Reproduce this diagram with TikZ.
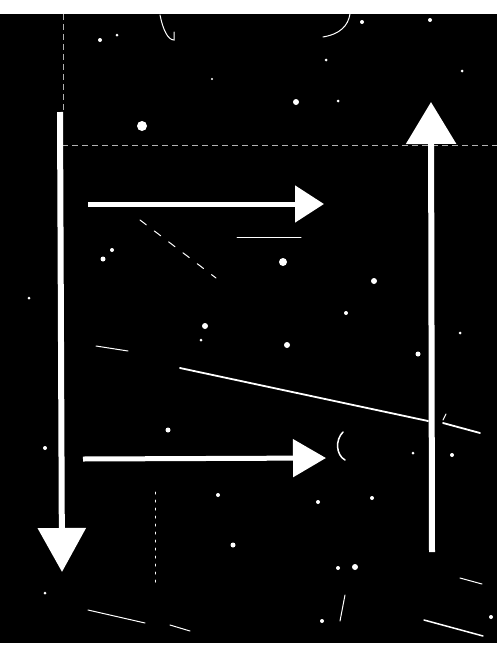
\documentclass[tikz,border=0pt]{standalone}
\usetikzlibrary{arrows.meta}
\tikzset{
  bigarrow/.style={draw=white,line width=6pt,-{Triangle[length=#1]}},
  scratch/.style={draw=white,line width=1pt,line cap=round},
  faint/.style={draw=white!70!black,line width=0.6pt,dash pattern=on 6pt off 4pt},
  speck/.style={fill=white,draw=none}
}
\begin{document}
\begin{tikzpicture}[x=1pt,y=-1pt]
\useasboundingbox (0,0) rectangle (499,648);
\fill[white] (0,0) rectangle (499,648);
\fill[black] (0,14) rectangle (497,643);
% faint guide lines
\coordinate (g1) at (62,145); \coordinate (g2) at (497,145);
\draw[faint] (g1) -- (g2);
\coordinate (v1) at (63,14); \coordinate (v2) at (63,112);
\draw[faint] (v1) -- (v2);
% main arrows
\coordinate (la) at (60,112); \coordinate (lb) at (62,572);
\draw[draw=white,line width=6pt,-{Triangle[length=44pt,width=47pt]}] (la) -- (lb);
\coordinate (ra) at (432,552); \coordinate (rb) at (431,102);
\draw[draw=white,line width=6pt,-{Triangle[length=42pt,width=49pt]}] (ra) -- (rb);
\coordinate (ta) at (88,204); \coordinate (tb) at (324,204);
\draw[draw=white,line width=5pt,-{Triangle[length=29pt,width=36pt]}] (ta) -- (tb);
\coordinate (ba) at (83,459); \coordinate (bb) at (326,458);
\draw[draw=white,line width=5pt,-{Triangle[length=33pt,width=37pt]}] (ba) -- (bb);
% diagonal line
\coordinate (d1) at (180,368); \coordinate (d2) at (428,421);
\draw[scratch,line width=1.8pt] (d1) -- (d2);
\coordinate (d3) at (443,423); \coordinate (d4) at (480,433);
\draw[scratch,line width=1.8pt] (d3) -- (d4);
% scratches
\draw[scratch] (237,237) -- (301,237);
\draw[scratch,dash pattern=on 8pt off 10pt] (140,220) -- (216,278);
\draw[scratch] (96,346) -- (128,351);
\draw[scratch] (160,15) .. controls (163,30) and (168,40) .. (174,40) -- (174,32);
\draw[scratch] (350,14) .. controls (348,26) and (340,34) .. (323,37);
\draw[scratch,line width=1.5pt] (343,432) .. controls (335,440) and (336,455) .. (345,460);
\draw[scratch,dash pattern=on 2pt off 6pt] (155,492) -- (155,582);
\draw[scratch] (88,610) -- (145,623);
\draw[scratch] (170,625) -- (190,631);
\draw[scratch,line width=1.5pt] (424,620) -- (483,636);
\draw[scratch] (460,578) -- (482,584);
\draw[scratch] (340,621) -- (345,595);
\draw[scratch] (443,420) -- (446,414);
% specks
\foreach \p/\r in {(100,40)/2,(117,35)/1.5,(142,126)/5,(212,79)/1.2,(296,102)/3,(338,101)/1.5,(326,60)/1.5,(362,22)/2,(430,20)/2,(462,71)/1.5,(112,250)/2,(103,259)/2.5,(29,298)/1.5,(205,326)/3,(283,262)/4,(374,281)/3,(346,313)/2,(287,345)/3,(201,340)/1.5,(418,354)/2.5,(168,430)/2.5,(45,448)/2,(233,545)/2.5,(318,502)/2,(372,498)/2,(355,567)/3,(45,593)/1.5,(322,621)/2,(452,455)/2,(491,617)/2,(460,333)/1.5,(413,453)/1.5,(338,568)/2,(218,495)/2}
  \fill[speck] \p circle (\r pt);
\end{tikzpicture}
\end{document}
